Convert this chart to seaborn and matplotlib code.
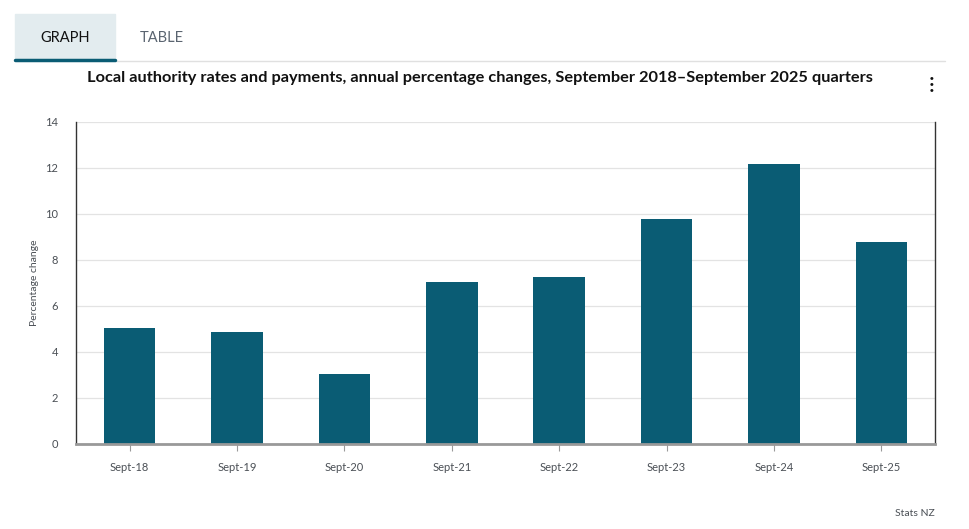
import pandas as pd
import matplotlib.pyplot as plt
from matplotlib.patches import Rectangle
from matplotlib.lines import Line2D
import seaborn as sns

# Data
quarters = ['Sept-18', 'Sept-19', 'Sept-20', 'Sept-21',
            'Sept-22', 'Sept-23', 'Sept-24', 'Sept-25']
pct_change = [5.05, 4.88, 3.05, 7.05, 7.27, 9.78, 12.18, 8.78]
y_ticks = [0, 2, 4, 6, 8, 10, 12, 14]

BAR = '#0a5c74'
TEXT = '#4a4f55'

sns.set_theme(style='white')
plt.rcParams['font.family'] = ['Lato', 'DejaVu Sans']

df = pd.DataFrame({'Quarter': quarters, 'Change': pct_change})

fig = plt.figure(figsize=(9.69, 5.29), dpi=100)
ax = fig.add_axes([76 / 969, 1 - 444 / 529, (935 - 76) / 969, 322 / 529])

sns.barplot(ax=ax, x='Quarter', y='Change', data=df, color=BAR,
            width=0.48, saturation=1, linewidth=0)

ax.set_ylim(0, 14)
ax.set_yticks(y_ticks)
ax.set_xlim(-0.5, len(quarters) - 0.5)
ax.grid(axis='y', color='#e3e3e3', linewidth=0.9)
ax.set_axisbelow(True)

for side in ['left', 'right']:
    ax.spines[side].set_color('#333333')
    ax.spines[side].set_linewidth(1.0)
ax.spines['top'].set_visible(False)
ax.spines['bottom'].set_color('#999999')
ax.spines['bottom'].set_linewidth(2.0)

ax.tick_params(axis='y', length=0, labelsize=8, labelcolor=TEXT, pad=13)
ax.tick_params(axis='x', length=5, width=0.8, color='#999999', direction='out',
               bottom=True, labelsize=8, labelcolor=TEXT, pad=8)
ax.set_xlabel('')
ax.set_ylabel('Percentage change', fontsize=7.5, color=TEXT, labelpad=4)

# Title
fig.text(480 / 969, 1 - 78 / 529,
         'Local authority rates and payments, annual percentage changes, '
         'September 2018\u2013September 2025 quarters',
         ha='center', va='center', fontsize=11.8, fontweight='bold', color='#111111')

# Tabs
fig.patches.append(Rectangle((15 / 969, 1 - 59 / 529), 100 / 969, 45 / 529,
                             transform=fig.transFigure, color='#e3ecef', zorder=0))
fig.lines.append(Line2D([115 / 969, 945 / 969], [1 - 61 / 529, 1 - 61 / 529],
                        transform=fig.transFigure, color='#e0e0e0', linewidth=1))
fig.lines.append(Line2D([15 / 969, 115 / 969], [1 - 60 / 529, 1 - 60 / 529],
                        transform=fig.transFigure, color=BAR, linewidth=2.5))
fig.text(65 / 969, 1 - 38 / 529, 'GRAPH', ha='center', va='center',
         fontsize=10.5, color='#111111')
fig.text(162 / 969, 1 - 38 / 529, 'TABLE', ha='center', va='center',
         fontsize=10.5, color='#5a6470')

# Menu dots
for yy in [78, 84, 90]:
    fig.text(932 / 969, 1 - yy / 529, '\u25CF', ha='center', va='center',
             fontsize=4.5, color='#111111')

# Source
fig.text(935 / 969, 1 - 513 / 529, 'Stats NZ', ha='right', va='center',
         fontsize=7.5, color=TEXT)

plt.savefig('out.png', dpi=100)
